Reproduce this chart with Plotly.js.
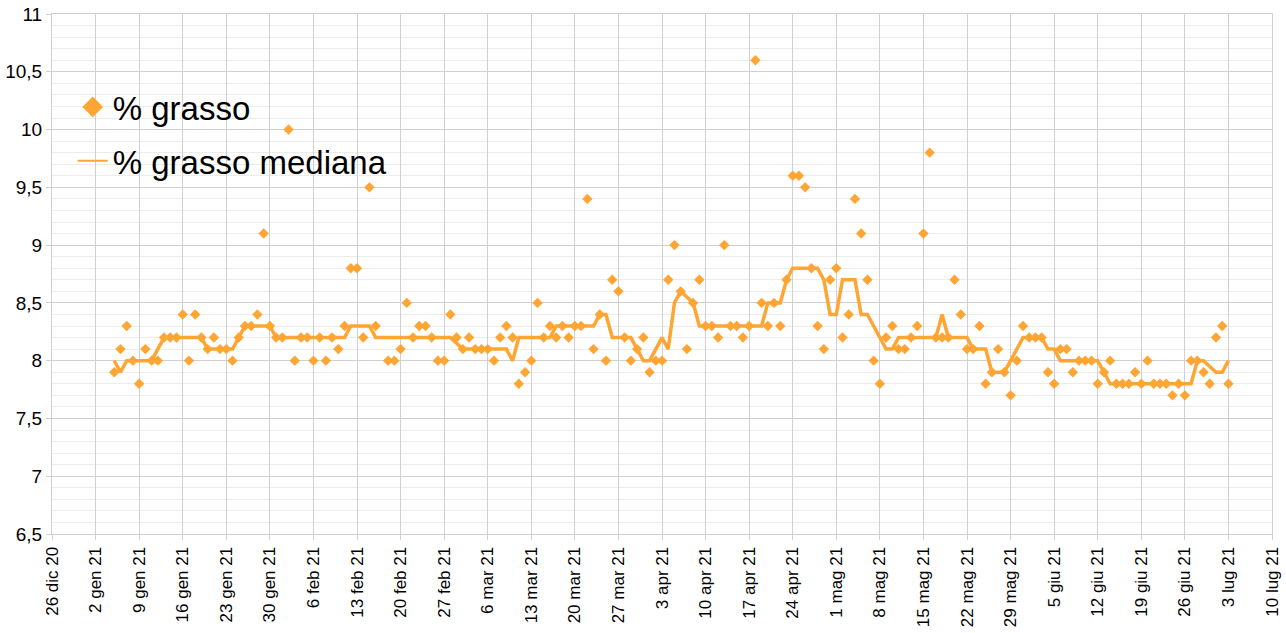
<!DOCTYPE html>
<html>
<head>
<meta charset="utf-8">
<script src="https://cdn.plot.ly/plotly-3.0.1.min.js"></script>
<style>
  html, body { margin: 0; padding: 0; background: #fff; }
  #chart { width: 1286px; height: 633px; }
</style>
</head>
<body>
<div id="chart"></div>
<script>
// Misure giornaliere, dal 5 gen 21 al 3 lug 21 (un valore al giorno)
const primoGiorno = '2021-01-05';

const grassoGen = [7.9, 8.1, 8.3, 8.0, 7.8, 8.1, 8.0, 8.0, 8.2, 8.2, 8.2, 8.4, 8.0, 8.4, 8.2, 8.1, 8.2, 8.1, 8.1, 8.0, 8.2, 8.3, 8.3, 8.4, 9.1, 8.3, 8.2];
const grassoFeb = [8.2, 10.0, 8.0, 8.2, 8.2, 8.0, 8.2, 8.0, 8.2, 8.1, 8.3, 8.8, 8.8, 8.2, 9.5, 8.3, null, 8.0, 8.0, 8.1, 8.5, 8.2, 8.3, 8.3, 8.2, 8.0, 8.0, 8.4];
const grassoMar = [8.2, 8.1, 8.2, 8.1, 8.1, 8.1, 8.0, 8.2, 8.3, 8.2, 7.8, 7.9, 8.0, 8.5, 8.2, 8.3, 8.2, 8.3, 8.2, 8.3, 8.3, 9.4, 8.1, 8.4, 8.0, 8.7, 8.6, 8.2, 8.0, 8.1, 8.2];
const grassoApr = [7.9, 8.0, 8.0, 8.7, 9.0, 8.6, 8.1, 8.5, 8.7, 8.3, 8.3, 8.2, 9.0, 8.3, 8.3, 8.2, 8.3, 10.6, 8.5, 8.3, 8.5, 8.3, 8.7, 9.6, 9.6, 9.5, 8.8, 8.3, 8.1, 8.7];
const grassoMag = [8.8, 8.2, 8.4, 9.4, 9.1, 8.7, 8.0, 7.8, 8.2, 8.3, 8.1, 8.1, 8.2, 8.3, 9.1, 9.8, 8.2, 8.2, 8.2, 8.7, 8.4, 8.1, 8.1, 8.3, 7.8, 7.9, 8.1, 7.9, 7.7, 8.0, 8.3];
const grassoGiu = [8.2, 8.2, 8.2, 7.9, 7.8, 8.1, 8.1, 7.9, 8.0, 8.0, 8.0, 7.8, 7.9, 8.0, 7.8, 7.8, 7.8, 7.9, 7.8, 8.0, 7.8, 7.8, 7.8, 7.7, 7.8, 7.7, 8.0, 8.0, 7.9, 7.8];
const grassoLug = [8.2, 8.3, 7.8];

const medianaGen = [8.0, 7.9, 8.0, 8.0, 8.0, 8.0, 8.0, 8.1, 8.2, 8.2, 8.2, 8.2, 8.2, 8.2, 8.2, 8.1, 8.1, 8.1, 8.1, 8.1, 8.2, 8.3, 8.3, 8.3, 8.3, 8.3, 8.2];
const medianaFeb = [8.2, 8.2, 8.2, 8.2, 8.2, 8.2, 8.2, 8.2, 8.2, 8.2, 8.2, 8.3, 8.3, 8.3, 8.3, 8.2, 8.2, 8.2, 8.2, 8.2, 8.2, 8.2, 8.2, 8.2, 8.2, 8.2, 8.2, 8.2];
const medianaMar = [8.15, 8.1, 8.1, 8.1, 8.1, 8.1, 8.1, 8.1, 8.1, 8.0, 8.2, 8.2, 8.2, 8.2, 8.2, 8.2, 8.3, 8.3, 8.3, 8.3, 8.3, 8.3, 8.3, 8.4, 8.4, 8.2, 8.2, 8.2, 8.2, 8.1, 8.0];
const medianaApr = [8.0, 8.1, 8.2, 8.1, 8.5, 8.6, 8.55, 8.5, 8.3, 8.3, 8.3, 8.3, 8.3, 8.3, 8.3, 8.3, 8.3, 8.3, 8.3, 8.5, 8.5, 8.5, 8.7, 8.8, 8.8, 8.8, 8.8, 8.8, 8.7, 8.4];
const medianaMag = [8.4, 8.7, 8.7, 8.7, 8.4, 8.4, 8.3, 8.2, 8.1, 8.1, 8.2, 8.2, 8.2, 8.2, 8.2, 8.2, 8.2, 8.4, 8.2, 8.2, 8.2, 8.2, 8.1, 8.1, 8.1, 7.9, 7.9, 7.9, 8.0, 8.1, 8.2];
const medianaGiu = [8.2, 8.2, 8.2, 8.1, 8.1, 8.0, 8.0, 8.0, 8.0, 8.0, 8.0, 8.0, 7.9, 7.8, 7.8, 7.8, 7.8, 7.8, 7.8, 7.8, 7.8, 7.8, 7.8, 7.8, 7.8, 7.8, 7.8, 8.0, 8.0, 7.95];
const medianaLug = [7.9, 7.9, 8.0];

const tickDate = ['2020-12-26', '2021-01-02', '2021-01-09', '2021-01-16', '2021-01-23', '2021-01-30',
    '2021-02-06', '2021-02-13', '2021-02-20', '2021-02-27', '2021-03-06', '2021-03-13', '2021-03-20',
    '2021-03-27', '2021-04-03', '2021-04-10', '2021-04-17', '2021-04-24', '2021-05-01', '2021-05-08',
    '2021-05-15', '2021-05-22', '2021-05-29', '2021-06-05', '2021-06-12', '2021-06-19', '2021-06-26',
    '2021-07-03', '2021-07-10'];
const tickTesti = ['26 dic 20', '2 gen 21', '9 gen 21', '16 gen 21', '23 gen 21', '30 gen 21',
    '6 feb 21', '13 feb 21', '20 feb 21', '27 feb 21', '6 mar 21', '13 mar 21', '20 mar 21',
    '27 mar 21', '3 apr 21', '10 apr 21', '17 apr 21', '24 apr 21', '1 mag 21', '8 mag 21',
    '15 mag 21', '22 mag 21', '29 mag 21', '5 giu 21', '12 giu 21', '19 giu 21', '26 giu 21',
    '3 lug 21', '10 lug 21'];

const grasso = [].concat(grassoGen, grassoFeb, grassoMar, grassoApr, grassoMag, grassoGiu, grassoLug);
const mediana = [].concat(medianaGen, medianaFeb, medianaMar, medianaApr, medianaMag, medianaGiu, medianaLug);

// una data per ogni misura, giorno dopo giorno
const giorni = grasso.map((_, i) => {
    const d = new Date(primoGiorno + 'T00:00:00Z');
    d.setUTCDate(d.getUTCDate() + i);
    return d.toISOString().slice(0, 10);
});

const arancio = '#ffa533';
const griglia = '#d0d0d0';
const font = 'Liberation Sans, Arial, sans-serif';

const traces = [
    { type: 'scatter', mode: 'lines', x: giorni, y: mediana, name: '% grasso mediana',
      line: { color: arancio, width: 3.5 }, showlegend: false, hoverinfo: 'x+y' },
    { type: 'scatter', mode: 'markers', x: giorni, y: grasso, name: '% grasso',
      marker: { color: arancio, symbol: 'diamond', size: 8 }, showlegend: false, hoverinfo: 'x+y' },
    // voci della legenda
    { type: 'scatter', mode: 'markers', x: [null], y: [null], name: '% grasso', legendgroup: 'a',
      marker: { color: arancio, symbol: 'diamond', size: 16 } },
    { type: 'scatter', mode: 'lines', x: [null], y: [null], name: '% grasso mediana', legendgroup: 'b',
      line: { color: arancio, width: 2 } },
];

const layout = {
    width: 1286, height: 633,
    paper_bgcolor: '#fff', plot_bgcolor: '#fff',
    margin: { l: 52, r: 14, t: 14, b: 99 },
    separators: ',.',
    font: { family: font, color: '#000' },
    showlegend: true,
    legend: { x: 0.017, y: 0.875, xanchor: 'left', yanchor: 'top', bgcolor: 'rgba(0,0,0,0)',
              font: { size: 33, family: font }, tracegroupgap: 8 },
    xaxis: {
        type: 'date', range: ['2020-12-26', '2021-07-10'],
        tickmode: 'array', tickvals: tickDate, ticktext: tickTesti, tickangle: -90,
        tickfont: { size: 17 }, showgrid: true, gridcolor: griglia,
        showline: true, linecolor: griglia, mirror: true,
        ticks: 'outside', ticklen: 5, tickcolor: griglia, zeroline: false,
    },
    yaxis: {
        range: [6.5, 11], dtick: 0.5, tick0: 6.5,
        tickfont: { size: 19 }, showgrid: true, gridcolor: griglia,
        minor: { dtick: 0.1, showgrid: true, gridcolor: '#ececec' },
        showline: true, linecolor: griglia, mirror: true,
        ticks: 'outside', ticklen: 5, tickcolor: griglia, zeroline: false,
    },
};

Plotly.newPlot('chart', traces, layout, { displayModeBar: false, staticPlot: true });
</script>
</body>
</html>
